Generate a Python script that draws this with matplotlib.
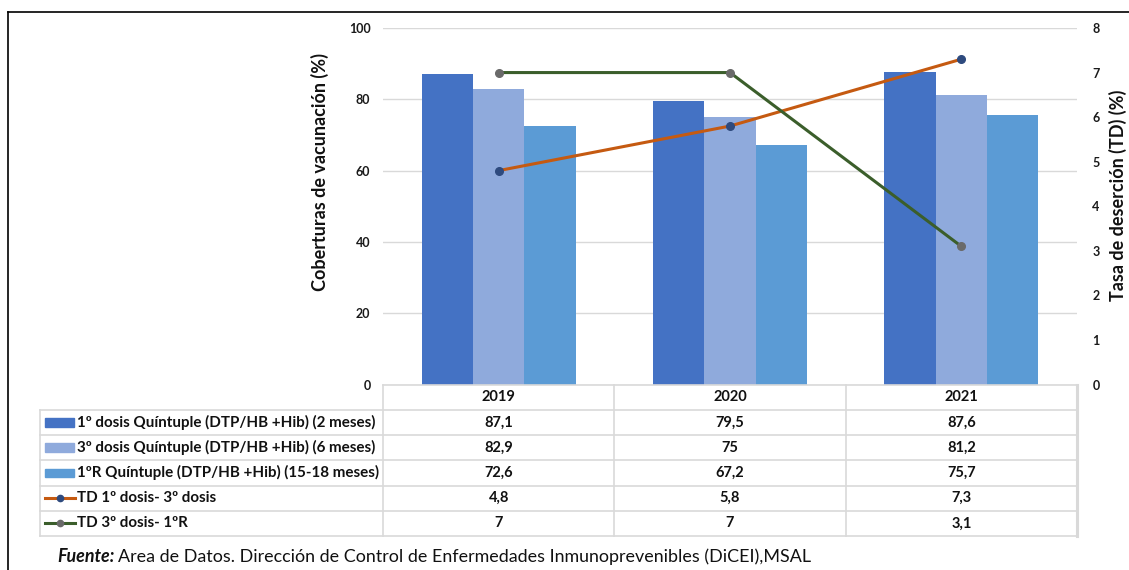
import matplotlib
matplotlib.use("Agg")
import matplotlib.pyplot as plt
from matplotlib.patches import Rectangle
from matplotlib.lines import Line2D
import numpy as np

plt.rcParams['font.family'] = ['Lato', 'DejaVu Sans']

years = ["2019", "2020", "2021"]
bar_labels = ["1º dosis Quíntuple (DTP/HB +Hib) (2 meses)",
              "3º dosis Quíntuple (DTP/HB +Hib) (6 meses)",
              "1ºR Quíntuple (DTP/HB +Hib) (15-18 meses)"]
dosis1 = [87.1, 79.5, 87.6]
dosis3 = [82.9, 75, 81.2]
refuerzo = [72.6, 67.2, 75.7]
line_labels = ["TD 1º dosis- 3º dosis", "TD 3º dosis- 1ºR"]
td13 = [4.8, 5.8, 7.3]
td3r = [7, 7, 3.1]
table_text = [["87,1", "79,5", "87,6"],
              ["82,9", "75", "81,2"],
              ["72,6", "67,2", "75,7"],
              ["4,8", "5,8", "7,3"],
              ["7", "7", "3,1"]]

bar_colors = ["#4472C4", "#8FAADC", "#5B9BD5"]
line_colors = ["#C55A11", "#3B5E2B"]
marker_colors = ["#2E4A7E", "#6A6A6A"]

W, H = 1129, 570
fig = plt.figure(figsize=(W / 100, H / 100), dpi=100)

def fx(px):
    return px / W

def fy(py):
    return 1 - py / H

# outer border
fig.add_artist(Line2D([fx(8), fx(8)], [fy(12), fy(572)], color="black", lw=1.2))
fig.add_artist(Line2D([fx(8), fx(1130)], [fy(12), fy(12)], color="black", lw=1.2))

L, R, T, B = 383, 1077, 28, 384.5
ax = fig.add_axes([fx(L), fy(B), fx(R - L), (B - T) / H])
ax2 = ax.twinx()

x = np.arange(len(years))
bw = 0.222
for i, (vals, c) in enumerate(zip([dosis1, dosis3, refuerzo], bar_colors)):
    ax.bar(x + (i - 1) * bw, vals, width=bw, color=c, zorder=3)

ax.set_xlim(-0.5, 2.5)
ax.set_ylim(0, 100)
ax.set_yticks([0, 20, 40, 60, 80, 100])
ax.grid(axis="y", color="#D9D9D9", lw=1, zorder=0)
ax.set_axisbelow(True)
ax.set_xticks([])
for s in ax.spines.values():
    s.set_visible(False)
for s in ax2.spines.values():
    s.set_visible(False)
ax.tick_params(axis="y", length=0, pad=9, labelsize=9, labelcolor="#1a1a1a")
for t in ax.get_yticklabels():
    t.set_fontweight("bold")

for vals, c, mc in zip([td13, td3r], line_colors, marker_colors):
    ax2.plot(x, vals, color=c, lw=2.2, marker="o", markersize=5.5,
             markerfacecolor=mc, markeredgecolor=mc, zorder=5)
ax2.set_ylim(0, 8)
ax2.set_yticks(range(0, 9))
ax2.tick_params(axis="y", length=0, pad=11, labelsize=9, labelcolor="#1a1a1a")
for t in ax2.get_yticklabels():
    t.set_fontweight("bold")

fig.text(fx(320), fy(172), "Coberturas de vacunación (%)", rotation=90,
         ha="center", va="center", fontsize=13, fontweight="bold", color="#111111")
fig.text(fx(1118), fy(195), "Tasa de deserción (TD) (%)", rotation=90,
         ha="center", va="center", fontsize=13, fontweight="bold", color="#111111")

# data table
TL, TT, TB = 40, 384.5, 536
cat_px = (R - L) / 3.0
left_units = -0.5 - (L - TL) / cat_px
axt = fig.add_axes([fx(TL), fy(TB), fx(R - TL), (TB - TT) / H])
axt.set_xlim(left_units, 2.5)
axt.set_ylim(6, 0)
axt.axis("off")
gc = "#D9D9D9"
axt.plot([-0.5, 2.5], [0, 0], color=gc, lw=1.2, clip_on=False)
for r in range(1, 7):
    axt.plot([left_units, 2.5], [r, r], color=gc, lw=1.2, clip_on=False)
axt.plot([left_units, left_units], [1, 6], color=gc, lw=1.2, clip_on=False)
for cx in [-0.5, 0.5, 1.5]:
    axt.plot([cx, cx], [0, 6], color=gc, lw=1.2, clip_on=False)
axt.plot([2.5, 2.5], [0, 6], color=gc, lw=2.2, clip_on=False)

for j, yr in enumerate(years):
    axt.text(j, 0.5, yr, ha="center", va="center", fontsize=10.5, fontweight="bold", color="#111111")
for r, row in enumerate(table_text):
    for j, v in enumerate(row):
        axt.text(j, r + 1.5, v, ha="center", va="center", fontsize=10.5, fontweight="bold", color="#111111")

u = 1.0 / cat_px  # units per pixel
labels = bar_labels + line_labels
for r, lab in enumerate(labels):
    yc = r + 1.5
    if r < 3:
        axt.add_patch(Rectangle((left_units + 5 * u, yc - 0.17), 29 * u, 0.34,
                                color=bar_colors[r], clip_on=False))
    else:
        k = r - 3
        axt.plot([left_units + 5 * u, left_units + 35 * u], [yc, yc], color=line_colors[k],
                 lw=2.2, clip_on=False)
        axt.plot([left_units + 20 * u], [yc], marker="o", markersize=4.5,
                 color=marker_colors[k], clip_on=False)
    axt.text(left_units + 37 * u, yc, lab, ha="left", va="center", fontsize=10.9,
             fontweight="bold", color="#111111")

t1 = fig.text(fx(57), fy(557), "Fuente:", ha="left", va="center", fontsize=12.9,
              fontweight="bold", fontstyle="italic", color="#111111")
fig.canvas.draw()
bb = t1.get_window_extent(renderer=fig.canvas.get_renderer())
fig.text((bb.x1 + 4) / W, fy(557), "Area de Datos. Dirección de Control de Enfermedades Inmunoprevenibles (DiCEI),MSAL",
         ha="left", va="center", fontsize=12.9, color="#111111")

fig.savefig("out.png", dpi=100)
